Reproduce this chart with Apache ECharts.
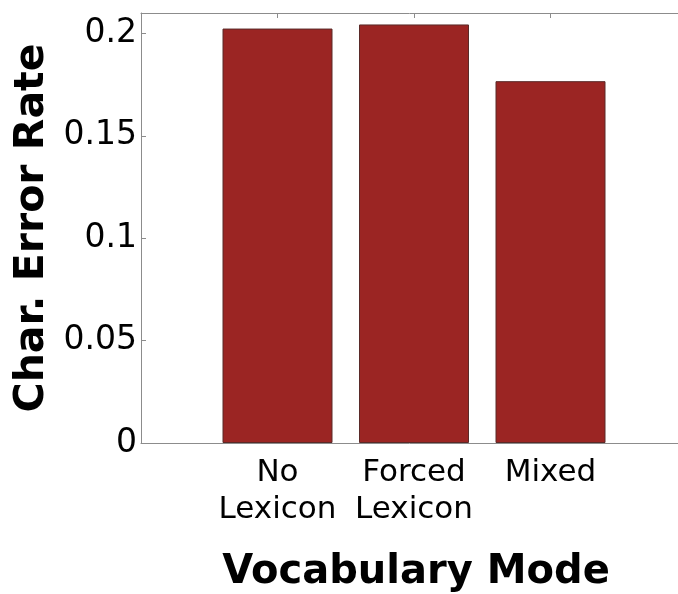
<!DOCTYPE html>
<html>
<head>
<meta charset="utf-8">
<script src="https://cdn.jsdelivr.net/npm/echarts@6/dist/echarts.min.js"></script>
<style>
  html, body { margin: 0; padding: 0; background: #fff; }
  #chartDom { width: 678px; height: 594px; }
</style>
</head>
<body>
<div id="chartDom"></div>
<script>
// bars sit at x = 1, 2, 3; the axis runs past the picture's right edge
var categories = ['No\nLexicon', 'Forced\nLexicon', 'Mixed'];
var errorRates = [0.2024, 0.2044, 0.1767];
var yTicks = [0, 0.05, 0.1, 0.15, 0.2];

var chartDom = echarts.init(document.getElementById('chartDom'));

var barData = errorRates.map(function (v, i) { return [i + 1, v]; });

chartDom.setOption({
    animation: false,
    title: {
        text: 'Vocabulary Mode',
        left: 411,
        top: 548,
        textAlign: 'center',
        textStyle: { fontFamily: 'DejaVu Sans', fontWeight: 'bold', fontSize: 40, color: '#000' }
    },
    grid: { left: 141, top: 13, right: 0, bottom: 151 },
    xAxis: [{
        type: 'value',
        min: 0,
        max: 3.934,
        interval: 1,
        axisLine: { show: true, onZero: false, lineStyle: { color: '#8c8c8c', width: 1 } },
        axisTick: { show: false },
        axisLabel: {
            margin: 11,
            fontFamily: 'DejaVu Sans',
            fontSize: 31,
            lineHeight: 37,
            color: '#000',
            showMaxLabel: false,
            formatter: function (v) { return categories[Math.round(v) - 1] || ''; }
        },
        splitLine: { show: false }
    }, {
        type: 'value',
        position: 'top',
        min: 0,
        max: 3.934,
        interval: 1,
        axisLine: { show: true, onZero: false, lineStyle: { color: '#8c8c8c', width: 1 } },
        axisTick: { show: true, inside: true, length: 5, lineStyle: { color: '#8c8c8c' } },
        axisLabel: { show: false },
        splitLine: { show: false }
    }],
    yAxis: {
        type: 'value',
        min: 0,
        max: 0.21,
        interval: 0.05,
        name: 'Char. Error Rate',
        nameLocation: 'middle',
        nameGap: 82,
        nameTextStyle: { fontFamily: 'DejaVu Sans', fontWeight: 'bold', fontSize: 41, color: '#000' },
        axisLine: { show: true, lineStyle: { color: '#8c8c8c', width: 1 } },
        axisTick: { show: true, inside: true, length: 5, lineStyle: { color: '#8c8c8c' } },
        axisLabel: {
            margin: 4,
            fontFamily: 'DejaVu Sans',
            fontSize: 33,
            color: '#000',
            formatter: function (v) {
                return yTicks.indexOf(+v.toFixed(2)) >= 0 ? String(+v.toFixed(2)) : '';
            }
        },
        splitLine: { show: false }
    },
    series: [{
        type: 'bar',
        data: barData,
        barWidth: 110,
        itemStyle: { color: '#9b2523', borderColor: '#5a2a28', borderWidth: 1 }
    }]
});
</script>
</body>
</html>
